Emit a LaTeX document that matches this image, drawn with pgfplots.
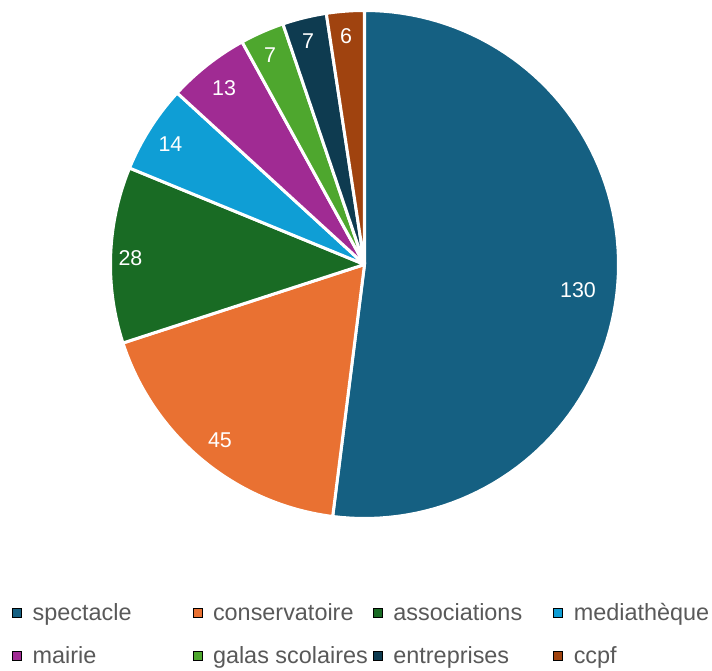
\documentclass[border=0pt]{standalone}
\usepackage{pgfplots}
\pgfplotsset{compat=1.18}
\usepackage{pgfplotstable}
\usepackage{fontspec}
\setmainfont{Liberation Sans}
\definecolor{c0}{HTML}{156082}
\definecolor{c1}{HTML}{E97132}
\definecolor{c2}{HTML}{196B24}
\definecolor{c3}{HTML}{0F9ED5}
\definecolor{c4}{HTML}{A02B93}
\definecolor{c5}{HTML}{4EA72E}
\definecolor{c6}{HTML}{0E3B50}
\definecolor{c7}{HTML}{A0430F}
\definecolor{legtext}{HTML}{595959}
% value, and label position (in radii)
\pgfplotstableread{
value lx ly
130 0.8406 -0.1024
45 -0.5689 -0.6929
28 -0.9213 0.0256
14 -0.7638 0.4724
13 -0.5531 0.6949
7 -0.3720 0.8228
7 -0.2224 0.8780
6 -0.0728 0.8976
}\piedata
\pgfplotsset{
  lbl/.style={nodes near coords align=center,
    every node near coord/.append style={text=white, font=\fontsize{21.5}{25}\selectfont, inner sep=0pt, anchor=center}},
}
\newcommand\legitem[2]{\makebox[#1][l]{\hspace*{9bp}#2}}
\begin{document}
\begin{tikzpicture}
\begin{axis}[
  x=254bp, y=254bp,
  xmin=-1.4350, xmax=1.3681, ymin=-1.5965, ymax=1.0413,
  axis line style={draw=none}, ticks=none, clip=false,
  legend image code/.code={\fill[#1] (0bp,-4.5bp) rectangle (9bp,4.5bp);},
  legend columns=4,
  legend style={at={(0.0169,0.1025)}, anchor=north west, draw=none, fill=none,
    font=\fontsize{23.5}{27}\selectfont, text=legtext, inner sep=0pt,
    row sep=20bp, column sep=0bp},
  legend cell align=left,
]
\def\startangle{90}
\pgfplotsforeachungrouped \i in {0,...,7}{%
  \pgfplotstablegetelem{\i}{value}\of\piedata \let\val\pgfplotsretval
  \pgfplotstablegetelem{\i}{lx}\of\piedata \let\lx\pgfplotsretval
  \pgfplotstablegetelem{\i}{ly}\of\piedata \let\ly\pgfplotsretval
  \pgfmathsetmacro\endangle{\startangle-\val/250*360}%
  \edef\doplot{\noexpand\addplot[fill=c\i, draw=white, line width=3bp, line join=round, domain=\endangle:\startangle, samples=90, forget plot] ({cos(x)},{sin(x)}) -- (axis cs:0,0) -- cycle;}%
  \doplot
  \edef\dolabel{\noexpand\addplot[draw=none, mark=none, forget plot, lbl, nodes near coords=\val] coordinates {(\lx,\ly)};}%
  \dolabel
  \global\let\startangle\endangle
}
\addlegendimage{fill=c0}\addlegendentry{\legitem{167bp}{spectacle}}
\addlegendimage{fill=c1}\addlegendentry{\legitem{167bp}{conservatoire}}
\addlegendimage{fill=c2}\addlegendentry{\legitem{167bp}{associations}}
\addlegendimage{fill=c3}\addlegendentry{\legitem{140bp}{mediathèque}}
\addlegendimage{fill=c4}\addlegendentry{\legitem{167bp}{mairie}}
\addlegendimage{fill=c5}\addlegendentry{\legitem{167bp}{galas scolaires}}
\addlegendimage{fill=c6}\addlegendentry{\legitem{167bp}{entreprises}}
\addlegendimage{fill=c7}\addlegendentry{\legitem{140bp}{ccpf}}
\end{axis}
\end{tikzpicture}
\end{document}
